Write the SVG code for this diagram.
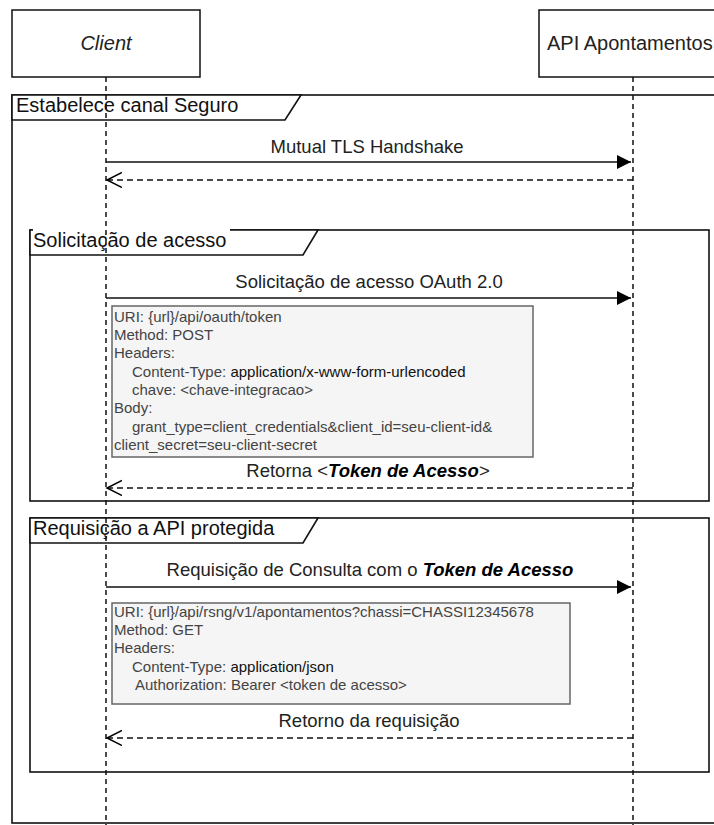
<svg xmlns="http://www.w3.org/2000/svg" width="714" height="825" viewBox="0 0 714 825">
<defs>
<style>
.box{fill:#fff;stroke:#111;stroke-width:1.5}
.frame{fill:none;stroke:#111;stroke-width:1.6}
.tab{fill:#fff;stroke:#111;stroke-width:1.6}
.life{stroke:#111;stroke-width:1.5;stroke-dasharray:5 4;fill:none}
.msg{stroke:#111;stroke-width:1.5;fill:none}
.ret{stroke:#111;stroke-width:1.5;stroke-dasharray:6 4;fill:none}
.note{fill:#f5f5f5;stroke:#666;stroke-width:1.5}
text{font-family:"Liberation Sans",Arial,sans-serif}
.plabel{font-size:20px;fill:#222}
.flabel{font-size:20px;fill:#111}
.mlabel{font-size:18.5px;fill:#222;text-anchor:middle}
.ntext{font-size:15px;fill:#444}
.dark{fill:#111}
.bi{font-weight:bold;font-style:italic;fill:#000}
</style>
<marker id="block" markerUnits="userSpaceOnUse" markerWidth="15" markerHeight="15" refX="14" refY="7" orient="auto">
<path d="M0,0 L14,7 L0,14 z" fill="#000"/>
</marker>
<marker id="open" markerUnits="userSpaceOnUse" markerWidth="18" markerHeight="18" refX="15" refY="8" orient="auto">
<path d="M0,0.5 L15,8 L0,15.5" fill="none" stroke="#000" stroke-width="1.5"/>
</marker>
</defs>

<!-- frames -->
<g id="frame-estabelece">
<rect class="frame" x="12" y="95" width="720" height="728"/>
<path class="tab" d="M12,95 L301,95 L285,120 L12,120 z"/>
<text class="flabel" x="16" y="112">Estabelece canal Seguro</text>
</g>
<g id="frame-solicitacao">
<rect class="frame" x="30" y="230" width="679" height="271"/>
<path class="tab" d="M30,230 L318,230 L303,255 L30,255 z"/>
<rect x="33" y="229" width="197" height="3" fill="#fff"/>
<text class="flabel" x="33" y="247">Solicitação de acesso</text>
</g>
<g id="frame-requisicao">
<rect class="frame" x="30" y="518" width="679" height="254"/>
<path class="tab" d="M30,518 L318,518 L303,543 L30,543 z"/>
<text class="flabel" x="33" y="535">Requisição a API protegida</text>
</g>

<!-- participants -->
<g id="client">
<rect class="box" x="12" y="10" width="188" height="67"/>
<text class="plabel" x="106" y="50" text-anchor="middle" font-style="italic">Client</text>
</g>
<g id="api">
<rect class="box" x="539" y="10" width="188" height="67"/>
<text class="plabel" x="547" y="50">API Apontamentos</text>
</g>

<!-- notes -->
<g id="note-oauth">
<rect class="note" x="112" y="306" width="421" height="151"/>
<text class="ntext" x="114" y="322">URI: {url}/api/oauth/token</text>
<text class="ntext" x="114" y="340">Method: POST</text>
<text class="ntext" x="114" y="358">Headers:</text>
<text class="ntext" x="132" y="377">Content-Type: <tspan class="dark">application/x-www-form-urlencoded</tspan></text>
<text class="ntext" x="132" y="395">chave: &lt;chave-integracao&gt;</text>
<text class="ntext" x="114" y="413">Body:</text>
<text class="ntext" x="132" y="432">grant_type=client_credentials&amp;client_id=seu-client-id&amp;</text>
<text class="ntext" x="114" y="450">client_secret=seu-client-secret</text>
</g>
<g id="note-consulta">
<rect class="note" x="112" y="603" width="458" height="101"/>
<text class="ntext" x="114" y="617">URI: {url}/api/rsng/v1/apontamentos?chassi=CHASSI12345678</text>
<text class="ntext" x="114" y="635">Method: GET</text>
<text class="ntext" x="114" y="653">Headers:</text>
<text class="ntext" x="132" y="672">Content-Type: <tspan class="dark">application/json</tspan></text>
<text class="ntext" x="135" y="690">Authorization: Bearer &lt;token de acesso&gt;</text>
</g>

<!-- connectors -->
<g id="connectors">
<line class="life" x1="106" y1="77" x2="106" y2="825"/>
<line class="life" x1="633" y1="77" x2="633" y2="825"/>

<line class="msg" x1="106" y1="162" x2="631" y2="162" marker-end="url(#block)"/>
<text class="mlabel" x="367" y="153">Mutual TLS Handshake</text>
<polyline class="ret" points="633,180 107,180" marker-end="url(#open)"/>

<line class="msg" x1="106" y1="298" x2="631" y2="298" marker-end="url(#block)"/>
<text class="mlabel" x="369" y="288">Solicitação de acesso OAuth 2.0</text>
<polyline class="ret" points="633,488 107,488" marker-end="url(#open)"/>
<text class="mlabel" x="368" y="477">Retorna &lt;<tspan class="bi">Token de Acesso</tspan>&gt;</text>

<line class="msg" x1="106" y1="587" x2="631" y2="587" marker-end="url(#block)"/>
<text class="mlabel" x="370" y="576">Requisição de Consulta com o <tspan class="bi">Token de Acesso</tspan></text>
<polyline class="ret" points="633,738 107,738" marker-end="url(#open)"/>
<text class="mlabel" x="369" y="727">Retorno da requisição</text>
</g>
</svg>
